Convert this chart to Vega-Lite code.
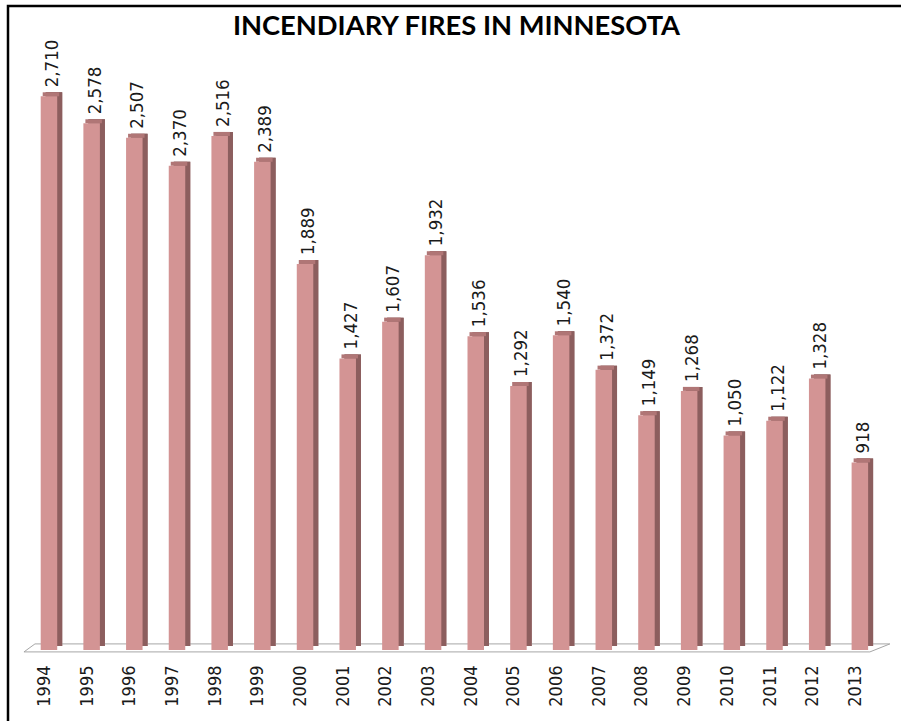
{
  "$schema": "https://vega.github.io/schema/vega-lite/v6.json",
  "autosize": "none",
  "padding": {"left": 8, "top": 6, "right": 0, "bottom": 0},
  "width": 897,
  "height": 724,
  "background": "white",
  "config": {"view": {"stroke": "black", "strokeWidth": 2.5}},
  "title": {
    "text": "INCENDIARY FIRES IN MINNESOTA",
    "font": "Lato",
    "fontSize": 27.3,
    "fontWeight": "bold",
    "color": "black",
    "anchor": "middle",
    "frame": "group",
    "offset": -32,
    "dy": 24,
    "baseline": "alphabetic"
  },
  "datasets": {
    "floor": [{"start": "1994", "end": "2013", "base": 0}],
    "fires": [
      {"year": "1994", "fires": 2710},
      {"year": "1995", "fires": 2578},
      {"year": "1996", "fires": 2507},
      {"year": "1997", "fires": 2370},
      {"year": "1998", "fires": 2516},
      {"year": "1999", "fires": 2389},
      {"year": "2000", "fires": 1889},
      {"year": "2001", "fires": 1427},
      {"year": "2002", "fires": 1607},
      {"year": "2003", "fires": 1932},
      {"year": "2004", "fires": 1536},
      {"year": "2005", "fires": 1292},
      {"year": "2006", "fires": 1540},
      {"year": "2007", "fires": 1372},
      {"year": "2008", "fires": 1149},
      {"year": "2009", "fires": 1268},
      {"year": "2010", "fires": 1050},
      {"year": "2011", "fires": 1122},
      {"year": "2012", "fires": 1328},
      {"year": "2013", "fires": 918}
    ]
  },
  "layer": [
    {
      "data": {"name": "fires"},
      "mark": {"type": "bar", "color": "#8C5E5E", "xOffset": 5, "yOffset": -4},
      "encoding": {
        "x": {
          "field": "year",
          "type": "nominal",
          "title": null,
          "scale": {"paddingInner": 0.6134, "paddingOuter": 0.8153, "align": 0.47},
          "axis": {
            "orient": "bottom",
            "offset": -65,
            "labelAngle": -90,
            "ticks": false,
            "tickSize": 0,
            "domain": false,
            "grid": false,
            "labelPadding": 0,
            "labelOffset": -4,
            "labelFont": "DejaVu Sans Condensed",
            "labelFontSize": 18,
            "labelColor": "#1a1a1a"
          }
        },
        "y": {
          "field": "fires",
          "type": "quantitative",
          "scale": {"domain": [-392, 3152], "nice": false},
          "axis": null
        }
      }
    },
    {
      "data": {"name": "floor"},
      "mark": {"type": "rule", "color": "#A6A6A6", "strokeWidth": 1, "xOffset": -25, "x2Offset": 10, "yOffset": 2},
      "encoding": {
        "x": {"field": "start", "type": "nominal", "title": null},
        "x2": {"field": "end"},
        "y": {"field": "base", "type": "quantitative"}
      }
    },
    {
      "data": {"name": "floor"},
      "mark": {"type": "rule", "color": "#A6A6A6", "strokeWidth": 1, "xOffset": -14, "x2Offset": 30, "yOffset": -6},
      "encoding": {
        "x": {"field": "start", "type": "nominal", "title": null},
        "x2": {"field": "end"},
        "y": {"field": "base", "type": "quantitative"}
      }
    },
    {
      "data": {"name": "floor"},
      "mark": {"type": "rule", "color": "#A6A6A6", "strokeWidth": 1, "xOffset": -25, "x2Offset": -14, "yOffset": 2, "y2Offset": -6},
      "encoding": {
        "x": {"field": "start", "type": "nominal", "title": null},
        "x2": {"field": "start"},
        "y": {"field": "base", "type": "quantitative"},
        "y2": {"field": "base"}
      }
    },
    {
      "data": {"name": "floor"},
      "mark": {"type": "rule", "color": "#A6A6A6", "strokeWidth": 1, "xOffset": 10, "x2Offset": 30, "yOffset": 2, "y2Offset": -6},
      "encoding": {
        "x": {"field": "end", "type": "nominal", "title": null},
        "x2": {"field": "end"},
        "y": {"field": "base", "type": "quantitative"},
        "y2": {"field": "base"}
      }
    },
    {
      "data": {"name": "fires"},
      "mark": {"type": "bar", "color": "#8C5E5E", "xOffset": 5, "yOffset": -4},
      "encoding": {
        "x": {"field": "year", "type": "nominal", "title": null},
        "y": {"field": "fires", "type": "quantitative"}
      }
    },
    {
      "data": {"name": "fires"},
      "mark": {"type": "bar", "color": "#B07676", "xOffset": 2, "yOffset": -4},
      "encoding": {
        "x": {"field": "year", "type": "nominal", "title": null},
        "y": {"field": "fires", "type": "quantitative"},
        "y2": {"field": "fires"}
      }
    },
    {
      "data": {"name": "fires"},
      "mark": {"type": "bar", "color": "#D39494"},
      "encoding": {
        "x": {"field": "year", "type": "nominal", "title": null},
        "y": {"field": "fires", "type": "quantitative"}
      }
    },
    {
      "data": {"name": "fires"},
      "mark": {"type": "text", "angle": 270, "align": "left", "baseline": "middle", "dx": 9, "dy": 3, "font": "DejaVu Sans Condensed", "fontSize": 18.5, "color": "#1a1a1a"},
      "encoding": {
        "x": {"field": "year", "type": "nominal", "title": null},
        "y": {"field": "fires", "type": "quantitative"},
        "text": {"field": "fires", "type": "quantitative", "format": ","}
      }
    }
  ]
}
